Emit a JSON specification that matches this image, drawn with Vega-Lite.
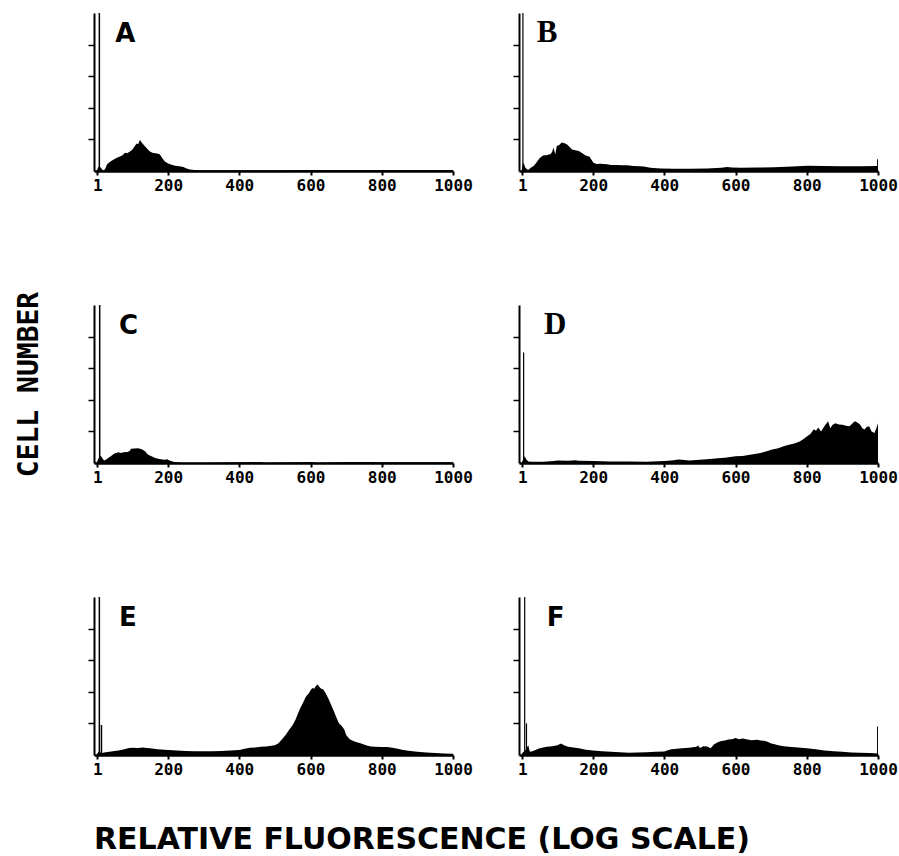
{
  "$schema": "https://vega.github.io/schema/vega-lite/v6.json",
  "background": "white",
  "padding": {"left": 15, "top": 13, "right": 0, "bottom": 0},
  "datasets": {
    "hist": [
      {"panel":"A","ch":0,"n":0},{"panel":"A","ch":3,"n":0.1},{"panel":"A","ch":5,"n":0.14},{"panel":"A","ch":10,"n":0.12},{"panel":"A","ch":15,"n":0.05},{"panel":"A","ch":19,"n":0.01},{"panel":"A","ch":24,"n":0.08},{"panel":"A","ch":28,"n":0.2},{"panel":"A","ch":35,"n":0.28},{"panel":"A","ch":45,"n":0.35},{"panel":"A","ch":56,"n":0.42},{"panel":"A","ch":65,"n":0.46},{"panel":"A","ch":72,"n":0.5},{"panel":"A","ch":79,"n":0.58},{"panel":"A","ch":85,"n":0.56},{"panel":"A","ch":93,"n":0.62},{"panel":"A","ch":100,"n":0.68},{"panel":"A","ch":106,"n":0.78},{"panel":"A","ch":112,"n":0.87},{"panel":"A","ch":116,"n":0.85},{"panel":"A","ch":121,"n":0.98},{"panel":"A","ch":126,"n":0.9},{"panel":"A","ch":130,"n":0.85},{"panel":"A","ch":135,"n":0.78},{"panel":"A","ch":142,"n":0.7},{"panel":"A","ch":149,"n":0.62},{"panel":"A","ch":156,"n":0.58},{"panel":"A","ch":163,"n":0.56},{"panel":"A","ch":170,"n":0.55},{"panel":"A","ch":177,"n":0.52},{"panel":"A","ch":184,"n":0.4},{"panel":"A","ch":191,"n":0.3},{"panel":"A","ch":200,"n":0.24},{"panel":"A","ch":210,"n":0.2},{"panel":"A","ch":220,"n":0.17},{"panel":"A","ch":232,"n":0.15},{"panel":"A","ch":243,"n":0.13},{"panel":"A","ch":252,"n":0.08},{"panel":"A","ch":261,"n":0.05},{"panel":"A","ch":275,"n":0.03},{"panel":"A","ch":289,"n":0.02},{"panel":"A","ch":400,"n":0.02},{"panel":"A","ch":500,"n":0.02},{"panel":"A","ch":600,"n":0.03},{"panel":"A","ch":800,"n":0.03},{"panel":"A","ch":1000,"n":0.03},

      {"panel":"B","ch":0,"n":0.05},{"panel":"B","ch":3,"n":0.26},{"panel":"B","ch":6,"n":0.22},{"panel":"B","ch":10,"n":0.1},{"panel":"B","ch":15,"n":0.05},{"panel":"B","ch":19,"n":0.04},{"panel":"B","ch":25,"n":0.1},{"panel":"B","ch":33,"n":0.16},{"panel":"B","ch":40,"n":0.25},{"panel":"B","ch":45,"n":0.33},{"panel":"B","ch":51,"n":0.42},{"panel":"B","ch":56,"n":0.46},{"panel":"B","ch":61,"n":0.5},{"panel":"B","ch":70,"n":0.5},{"panel":"B","ch":75,"n":0.52},{"panel":"B","ch":80,"n":0.53},{"panel":"B","ch":85,"n":0.6},{"panel":"B","ch":89,"n":0.74},{"panel":"B","ch":92,"n":0.6},{"panel":"B","ch":94,"n":0.53},{"panel":"B","ch":98,"n":0.79},{"panel":"B","ch":105,"n":0.82},{"panel":"B","ch":112,"n":0.9},{"panel":"B","ch":120,"n":0.88},{"panel":"B","ch":127,"n":0.84},{"panel":"B","ch":134,"n":0.76},{"panel":"B","ch":141,"n":0.68},{"panel":"B","ch":150,"n":0.66},{"panel":"B","ch":160,"n":0.63},{"panel":"B","ch":170,"n":0.56},{"panel":"B","ch":178,"n":0.5},{"panel":"B","ch":190,"n":0.45},{"panel":"B","ch":201,"n":0.26},{"panel":"B","ch":210,"n":0.22},{"panel":"B","ch":220,"n":0.23},{"panel":"B","ch":230,"n":0.22},{"panel":"B","ch":239,"n":0.21},{"panel":"B","ch":250,"n":0.19},{"panel":"B","ch":267,"n":0.19},{"panel":"B","ch":280,"n":0.18},{"panel":"B","ch":295,"n":0.18},{"panel":"B","ch":314,"n":0.16},{"panel":"B","ch":330,"n":0.15},{"panel":"B","ch":342,"n":0.14},{"panel":"B","ch":361,"n":0.1},{"panel":"B","ch":390,"n":0.08},{"panel":"B","ch":426,"n":0.07},{"panel":"B","ch":470,"n":0.07},{"panel":"B","ch":520,"n":0.08},{"panel":"B","ch":560,"n":0.1},{"panel":"B","ch":576,"n":0.13},{"panel":"B","ch":590,"n":0.11},{"panel":"B","ch":614,"n":0.1},{"panel":"B","ch":660,"n":0.11},{"panel":"B","ch":708,"n":0.12},{"panel":"B","ch":760,"n":0.14},{"panel":"B","ch":801,"n":0.17},{"panel":"B","ch":850,"n":0.16},{"panel":"B","ch":895,"n":0.15},{"panel":"B","ch":950,"n":0.15},{"panel":"B","ch":1000,"n":0.16},

      {"panel":"C","ch":0,"n":0.02},{"panel":"C","ch":5,"n":0.15},{"panel":"C","ch":10,"n":0.24},{"panel":"C","ch":13,"n":0.2},{"panel":"C","ch":20,"n":0.08},{"panel":"C","ch":25,"n":0.1},{"panel":"C","ch":30,"n":0.14},{"panel":"C","ch":40,"n":0.22},{"panel":"C","ch":49,"n":0.3},{"panel":"C","ch":55,"n":0.32},{"panel":"C","ch":60,"n":0.34},{"panel":"C","ch":68,"n":0.32},{"panel":"C","ch":75,"n":0.34},{"panel":"C","ch":86,"n":0.35},{"panel":"C","ch":92,"n":0.38},{"panel":"C","ch":96,"n":0.45},{"panel":"C","ch":105,"n":0.46},{"panel":"C","ch":115,"n":0.47},{"panel":"C","ch":122,"n":0.45},{"panel":"C","ch":129,"n":0.42},{"panel":"C","ch":136,"n":0.36},{"panel":"C","ch":143,"n":0.27},{"panel":"C","ch":152,"n":0.22},{"panel":"C","ch":162,"n":0.17},{"panel":"C","ch":175,"n":0.13},{"panel":"C","ch":190,"n":0.1},{"panel":"C","ch":197,"n":0.12},{"panel":"C","ch":204,"n":0.08},{"panel":"C","ch":212,"n":0.05},{"panel":"C","ch":218,"n":0.03},{"panel":"C","ch":237,"n":0.01},{"panel":"C","ch":300,"n":0.01},{"panel":"C","ch":400,"n":0.02},{"panel":"C","ch":460,"n":0.03},{"panel":"C","ch":470,"n":0.01},{"panel":"C","ch":560,"n":0.02},{"panel":"C","ch":600,"n":0.03},{"panel":"C","ch":620,"n":0.01},{"panel":"C","ch":700,"n":0.03},{"panel":"C","ch":760,"n":0.03},{"panel":"C","ch":800,"n":0.02},{"panel":"C","ch":1000,"n":0.02},

      {"panel":"D","ch":0,"n":0.02},{"panel":"D","ch":8,"n":0.21},{"panel":"D","ch":12,"n":0.12},{"panel":"D","ch":18,"n":0.05},{"panel":"D","ch":30,"n":0.04},{"panel":"D","ch":60,"n":0.04},{"panel":"D","ch":90,"n":0.06},{"panel":"D","ch":100,"n":0.08},{"panel":"D","ch":130,"n":0.07},{"panel":"D","ch":150,"n":0.09},{"panel":"D","ch":160,"n":0.07},{"panel":"D","ch":200,"n":0.06},{"panel":"D","ch":250,"n":0.05},{"panel":"D","ch":300,"n":0.05},{"panel":"D","ch":350,"n":0.04},{"panel":"D","ch":400,"n":0.06},{"panel":"D","ch":420,"n":0.08},{"panel":"D","ch":440,"n":0.11},{"panel":"D","ch":450,"n":0.1},{"panel":"D","ch":470,"n":0.08},{"panel":"D","ch":500,"n":0.1},{"panel":"D","ch":520,"n":0.12},{"panel":"D","ch":550,"n":0.15},{"panel":"D","ch":570,"n":0.17},{"panel":"D","ch":600,"n":0.21},{"panel":"D","ch":620,"n":0.22},{"panel":"D","ch":640,"n":0.26},{"panel":"D","ch":650,"n":0.28},{"panel":"D","ch":670,"n":0.32},{"panel":"D","ch":690,"n":0.38},{"panel":"D","ch":700,"n":0.42},{"panel":"D","ch":710,"n":0.44},{"panel":"D","ch":720,"n":0.47},{"panel":"D","ch":735,"n":0.53},{"panel":"D","ch":750,"n":0.58},{"panel":"D","ch":765,"n":0.62},{"panel":"D","ch":780,"n":0.68},{"panel":"D","ch":790,"n":0.75},{"panel":"D","ch":800,"n":0.84},{"panel":"D","ch":810,"n":0.92},{"panel":"D","ch":820,"n":1.07},{"panel":"D","ch":826,"n":1.02},{"panel":"D","ch":832,"n":1.12},{"panel":"D","ch":840,"n":1.0},{"panel":"D","ch":848,"n":1.14},{"panel":"D","ch":855,"n":1.25},{"panel":"D","ch":860,"n":1.32},{"panel":"D","ch":866,"n":1.1},{"panel":"D","ch":872,"n":1.2},{"panel":"D","ch":880,"n":1.26},{"panel":"D","ch":890,"n":1.22},{"panel":"D","ch":900,"n":1.21},{"panel":"D","ch":910,"n":1.18},{"panel":"D","ch":920,"n":1.16},{"panel":"D","ch":928,"n":1.25},{"panel":"D","ch":935,"n":1.32},{"panel":"D","ch":942,"n":1.28},{"panel":"D","ch":950,"n":1.21},{"panel":"D","ch":956,"n":1.1},{"panel":"D","ch":962,"n":1.06},{"panel":"D","ch":968,"n":1.14},{"panel":"D","ch":975,"n":1.16},{"panel":"D","ch":982,"n":1.0},{"panel":"D","ch":990,"n":0.95},{"panel":"D","ch":995,"n":1.08},{"panel":"D","ch":1000,"n":1.26},

      {"panel":"E","ch":0,"n":0.03},{"panel":"E","ch":5,"n":0.1},{"panel":"E","ch":10,"n":0.08},{"panel":"E","ch":16,"n":0.06},{"panel":"E","ch":20,"n":0.08},{"panel":"E","ch":35,"n":0.1},{"panel":"E","ch":50,"n":0.13},{"panel":"E","ch":65,"n":0.15},{"panel":"E","ch":80,"n":0.19},{"panel":"E","ch":90,"n":0.22},{"panel":"E","ch":100,"n":0.23},{"panel":"E","ch":115,"n":0.22},{"panel":"E","ch":130,"n":0.24},{"panel":"E","ch":140,"n":0.22},{"panel":"E","ch":150,"n":0.21},{"panel":"E","ch":170,"n":0.18},{"panel":"E","ch":200,"n":0.16},{"panel":"E","ch":225,"n":0.14},{"panel":"E","ch":250,"n":0.13},{"panel":"E","ch":275,"n":0.12},{"panel":"E","ch":300,"n":0.12},{"panel":"E","ch":325,"n":0.12},{"panel":"E","ch":350,"n":0.13},{"panel":"E","ch":375,"n":0.14},{"panel":"E","ch":400,"n":0.16},{"panel":"E","ch":415,"n":0.2},{"panel":"E","ch":430,"n":0.23},{"panel":"E","ch":445,"n":0.24},{"panel":"E","ch":460,"n":0.26},{"panel":"E","ch":475,"n":0.27},{"panel":"E","ch":490,"n":0.29},{"panel":"E","ch":500,"n":0.31},{"panel":"E","ch":510,"n":0.37},{"panel":"E","ch":520,"n":0.5},{"panel":"E","ch":530,"n":0.63},{"panel":"E","ch":540,"n":0.8},{"panel":"E","ch":550,"n":0.95},{"panel":"E","ch":558,"n":1.12},{"panel":"E","ch":565,"n":1.32},{"panel":"E","ch":572,"n":1.5},{"panel":"E","ch":580,"n":1.68},{"panel":"E","ch":585,"n":1.8},{"panel":"E","ch":590,"n":1.89},{"panel":"E","ch":595,"n":1.95},{"panel":"E","ch":600,"n":2.05},{"panel":"E","ch":605,"n":2.12},{"panel":"E","ch":610,"n":2.1},{"panel":"E","ch":615,"n":2.18},{"panel":"E","ch":620,"n":2.23},{"panel":"E","ch":625,"n":2.15},{"panel":"E","ch":630,"n":2.1},{"panel":"E","ch":635,"n":2.08},{"panel":"E","ch":640,"n":2.0},{"panel":"E","ch":645,"n":1.9},{"panel":"E","ch":650,"n":1.79},{"panel":"E","ch":655,"n":1.66},{"panel":"E","ch":660,"n":1.53},{"panel":"E","ch":665,"n":1.4},{"panel":"E","ch":670,"n":1.26},{"panel":"E","ch":675,"n":1.12},{"panel":"E","ch":680,"n":1.0},{"panel":"E","ch":685,"n":0.95},{"panel":"E","ch":690,"n":0.89},{"panel":"E","ch":695,"n":0.8},{"panel":"E","ch":700,"n":0.63},{"panel":"E","ch":710,"n":0.5},{"panel":"E","ch":720,"n":0.44},{"panel":"E","ch":730,"n":0.4},{"panel":"E","ch":740,"n":0.37},{"panel":"E","ch":750,"n":0.33},{"panel":"E","ch":760,"n":0.29},{"panel":"E","ch":770,"n":0.27},{"panel":"E","ch":780,"n":0.26},{"panel":"E","ch":800,"n":0.25},{"panel":"E","ch":815,"n":0.25},{"panel":"E","ch":830,"n":0.23},{"panel":"E","ch":845,"n":0.2},{"panel":"E","ch":860,"n":0.16},{"panel":"E","ch":880,"n":0.13},{"panel":"E","ch":900,"n":0.1},{"panel":"E","ch":925,"n":0.08},{"panel":"E","ch":950,"n":0.06},{"panel":"E","ch":975,"n":0.05},{"panel":"E","ch":1000,"n":0.04},

      {"panel":"F","ch":0,"n":0.05},{"panel":"F","ch":5,"n":0.1},{"panel":"F","ch":10,"n":0.15},{"panel":"F","ch":18,"n":0.31},{"panel":"F","ch":22,"n":0.12},{"panel":"F","ch":25,"n":0.1},{"panel":"F","ch":35,"n":0.14},{"panel":"F","ch":50,"n":0.21},{"panel":"F","ch":60,"n":0.24},{"panel":"F","ch":70,"n":0.26},{"panel":"F","ch":85,"n":0.28},{"panel":"F","ch":100,"n":0.31},{"panel":"F","ch":110,"n":0.36},{"panel":"F","ch":120,"n":0.3},{"panel":"F","ch":130,"n":0.26},{"panel":"F","ch":145,"n":0.24},{"panel":"F","ch":160,"n":0.21},{"panel":"F","ch":180,"n":0.17},{"panel":"F","ch":200,"n":0.14},{"panel":"F","ch":225,"n":0.12},{"panel":"F","ch":250,"n":0.1},{"panel":"F","ch":275,"n":0.09},{"panel":"F","ch":300,"n":0.07},{"panel":"F","ch":325,"n":0.08},{"panel":"F","ch":350,"n":0.09},{"panel":"F","ch":375,"n":0.1},{"panel":"F","ch":400,"n":0.11},{"panel":"F","ch":410,"n":0.15},{"panel":"F","ch":420,"n":0.18},{"panel":"F","ch":435,"n":0.2},{"panel":"F","ch":450,"n":0.21},{"panel":"F","ch":470,"n":0.23},{"panel":"F","ch":490,"n":0.26},{"panel":"F","ch":495,"n":0.3},{"panel":"F","ch":500,"n":0.22},{"panel":"F","ch":510,"n":0.28},{"panel":"F","ch":520,"n":0.27},{"panel":"F","ch":530,"n":0.21},{"panel":"F","ch":540,"n":0.34},{"panel":"F","ch":550,"n":0.4},{"panel":"F","ch":560,"n":0.44},{"panel":"F","ch":570,"n":0.46},{"panel":"F","ch":580,"n":0.49},{"panel":"F","ch":590,"n":0.5},{"panel":"F","ch":600,"n":0.54},{"panel":"F","ch":610,"n":0.5},{"panel":"F","ch":620,"n":0.52},{"panel":"F","ch":630,"n":0.5},{"panel":"F","ch":645,"n":0.47},{"panel":"F","ch":660,"n":0.48},{"panel":"F","ch":670,"n":0.46},{"panel":"F","ch":680,"n":0.45},{"panel":"F","ch":690,"n":0.42},{"panel":"F","ch":700,"n":0.36},{"panel":"F","ch":710,"n":0.34},{"panel":"F","ch":720,"n":0.31},{"panel":"F","ch":735,"n":0.28},{"panel":"F","ch":750,"n":0.26},{"panel":"F","ch":775,"n":0.24},{"panel":"F","ch":800,"n":0.21},{"panel":"F","ch":825,"n":0.18},{"panel":"F","ch":850,"n":0.14},{"panel":"F","ch":875,"n":0.12},{"panel":"F","ch":900,"n":0.1},{"panel":"F","ch":925,"n":0.08},{"panel":"F","ch":950,"n":0.07},{"panel":"F","ch":975,"n":0.06},{"panel":"F","ch":1000,"n":0.05}
    ],
    "spikes": [
      {"panel":"A","ch":7,"top":6},
      {"panel":"B","ch":3,"top":6},{"panel":"B","ch":999,"top":0.37},
      {"panel":"C","ch":8,"top":6},
      {"panel":"D","ch":5,"top":3.5},
      {"panel":"E","ch":7,"top":6},{"panel":"E","ch":13,"top":0.95},
      {"panel":"F","ch":8,"top":6},{"panel":"F","ch":13,"top":1.0},{"panel":"F","ch":999,"top":0.9}
    ],
    "letters": [
      {"panel":"A","letter":"A"},{"panel":"B","letter":"B"},{"panel":"C","letter":"C"},
      {"panel":"D","letter":"D"},{"panel":"E","letter":"E"},{"panel":"F","letter":"F"}
    ]
  },
  "title": {
    "text": "RELATIVE FLUORESCENCE (LOG SCALE)",
    "orient": "bottom",
    "anchor": "start",
    "frame": "group",
    "font": "DejaVu Sans",
    "fontSize": 30,
    "fontWeight": "bold",
    "color": "black",
    "offset": 48
  },
  "columns": 2,
  "spacing": {"row": 134, "column": 66},
  "bounds": "flush",
  "concat": [
    {
      "width": 359, "height": 158,
      "layer": [
        {"data": {"name": "hist"}, "transform": [{"filter": "datum.panel === 'A'"}],
         "mark": {"type": "area", "color": "black", "clip": true},
         "encoding": {
           "x": {"field": "ch", "type": "quantitative", "scale": {"domain": [-8, 1000], "nice": false, "zero": false},
                 "axis": {"title": null, "values": [1,100,200,300,400,500,600,700,800,900,1000], "format": "d", "labelExpr": "datum.value === 1 || datum.value % 200 === 0 ? datum.label : ''"}},
           "y": {"field": "n", "type": "quantitative", "scale": {"domain": [0, 5], "nice": false},
                 "axis": {"title": null, "values": [1,2,3,4], "labels": false}}}},
        {"data": {"name": "spikes"}, "transform": [{"filter": "datum.panel === 'A'"}],
         "mark": {"type": "rule", "color": "black", "strokeWidth": 1.5, "clip": true},
         "encoding": {"x": {"field": "ch", "type": "quantitative"}, "y": {"field": "top", "type": "quantitative"}, "y2": {"datum": 0}}},
        {"data": {"name": "letters"}, "transform": [{"filter": "datum.panel === 'A'"}],
         "mark": {"type": "text", "align": "left", "baseline": "alphabetic", "font": "DejaVu Sans", "fontWeight": "bold", "fontSize": 26, "color": "black"},
         "encoding": {"x": {"datum": 52, "type": "quantitative"}, "y": {"datum": 4.07, "type": "quantitative"}, "text": {"field": "letter", "type": "nominal"}}}
      ]
    },
    {
      "width": 359, "height": 158,
      "layer": [
        {"data": {"name": "hist"}, "transform": [{"filter": "datum.panel === 'B'"}],
         "mark": {"type": "area", "color": "black", "clip": true},
         "encoding": {
           "x": {"field": "ch", "type": "quantitative", "scale": {"domain": [-8, 1000], "nice": false, "zero": false},
                 "axis": {"title": null, "values": [1,100,200,300,400,500,600,700,800,900,1000], "format": "d", "labelExpr": "datum.value === 1 || datum.value % 200 === 0 ? datum.label : ''"}},
           "y": {"field": "n", "type": "quantitative", "scale": {"domain": [0, 5], "nice": false},
                 "axis": {"title": null, "values": [1,2,3,4], "labels": false}}}},
        {"data": {"name": "spikes"}, "transform": [{"filter": "datum.panel === 'B'"}],
         "mark": {"type": "rule", "color": "black", "strokeWidth": 1.2, "clip": true},
         "encoding": {"x": {"field": "ch", "type": "quantitative"}, "y": {"field": "top", "type": "quantitative"}, "y2": {"datum": 0}}},
        {"data": {"name": "letters"}, "transform": [{"filter": "datum.panel === 'B'"}],
         "mark": {"type": "text", "align": "left", "baseline": "alphabetic", "font": "Liberation Serif", "fontWeight": "bold", "fontSize": 31, "color": "black"},
         "encoding": {"x": {"datum": 42, "type": "quantitative"}, "y": {"datum": 4.07, "type": "quantitative"}, "text": {"field": "letter", "type": "nominal"}}}
      ]
    },
    {
      "width": 359, "height": 158,
      "layer": [
        {"data": {"name": "hist"}, "transform": [{"filter": "datum.panel === 'C'"}],
         "mark": {"type": "area", "color": "black", "clip": true},
         "encoding": {
           "x": {"field": "ch", "type": "quantitative", "scale": {"domain": [-8, 1000], "nice": false, "zero": false},
                 "axis": {"title": null, "values": [1,100,200,300,400,500,600,700,800,900,1000], "format": "d", "labelExpr": "datum.value === 1 || datum.value % 200 === 0 ? datum.label : ''"}},
           "y": {"field": "n", "type": "quantitative", "scale": {"domain": [0, 5], "nice": false},
                 "axis": {"title": "CELL NUMBER", "values": [1,2,3,4], "labels": false, "titleFont": "DejaVu Sans Mono", "titleFontSize": 28, "titleFontWeight": "bold", "titlePadding": 44}}}},
        {"data": {"name": "spikes"}, "transform": [{"filter": "datum.panel === 'C'"}],
         "mark": {"type": "rule", "color": "black", "strokeWidth": 1.5, "clip": true},
         "encoding": {"x": {"field": "ch", "type": "quantitative"}, "y": {"field": "top", "type": "quantitative"}, "y2": {"datum": 0}}},
        {"data": {"name": "letters"}, "transform": [{"filter": "datum.panel === 'C'"}],
         "mark": {"type": "text", "align": "left", "baseline": "alphabetic", "font": "DejaVu Sans", "fontWeight": "bold", "fontSize": 26, "color": "black"},
         "encoding": {"x": {"datum": 62, "type": "quantitative"}, "y": {"datum": 4.07, "type": "quantitative"}, "text": {"field": "letter", "type": "nominal"}}}
      ]
    },
    {
      "width": 359, "height": 158,
      "layer": [
        {"data": {"name": "hist"}, "transform": [{"filter": "datum.panel === 'D'"}],
         "mark": {"type": "area", "color": "black", "clip": true},
         "encoding": {
           "x": {"field": "ch", "type": "quantitative", "scale": {"domain": [-8, 1000], "nice": false, "zero": false},
                 "axis": {"title": null, "values": [1,100,200,300,400,500,600,700,800,900,1000], "format": "d", "labelExpr": "datum.value === 1 || datum.value % 200 === 0 ? datum.label : ''"}},
           "y": {"field": "n", "type": "quantitative", "scale": {"domain": [0, 5], "nice": false},
                 "axis": {"title": null, "values": [1,2,3,4], "labels": false}}}},
        {"data": {"name": "spikes"}, "transform": [{"filter": "datum.panel === 'D'"}],
         "mark": {"type": "rule", "color": "black", "strokeWidth": 1.2, "clip": true},
         "encoding": {"x": {"field": "ch", "type": "quantitative"}, "y": {"field": "top", "type": "quantitative"}, "y2": {"datum": 0}}},
        {"data": {"name": "letters"}, "transform": [{"filter": "datum.panel === 'D'"}],
         "mark": {"type": "text", "align": "left", "baseline": "alphabetic", "font": "Liberation Serif", "fontWeight": "bold", "fontSize": 31, "color": "black"},
         "encoding": {"x": {"datum": 62, "type": "quantitative"}, "y": {"datum": 4.07, "type": "quantitative"}, "text": {"field": "letter", "type": "nominal"}}}
      ]
    },
    {
      "width": 359, "height": 158,
      "layer": [
        {"data": {"name": "hist"}, "transform": [{"filter": "datum.panel === 'E'"}],
         "mark": {"type": "area", "color": "black", "clip": true},
         "encoding": {
           "x": {"field": "ch", "type": "quantitative", "scale": {"domain": [-8, 1000], "nice": false, "zero": false},
                 "axis": {"title": null, "values": [1,100,200,300,400,500,600,700,800,900,1000], "format": "d", "labelExpr": "datum.value === 1 || datum.value % 200 === 0 ? datum.label : ''"}},
           "y": {"field": "n", "type": "quantitative", "scale": {"domain": [0, 5], "nice": false},
                 "axis": {"title": null, "values": [1,2,3,4], "labels": false}}}},
        {"data": {"name": "spikes"}, "transform": [{"filter": "datum.panel === 'E'"}],
         "mark": {"type": "rule", "color": "black", "strokeWidth": 1.5, "clip": true},
         "encoding": {"x": {"field": "ch", "type": "quantitative"}, "y": {"field": "top", "type": "quantitative"}, "y2": {"datum": 0}}},
        {"data": {"name": "letters"}, "transform": [{"filter": "datum.panel === 'E'"}],
         "mark": {"type": "text", "align": "left", "baseline": "alphabetic", "font": "DejaVu Sans", "fontWeight": "bold", "fontSize": 26, "color": "black"},
         "encoding": {"x": {"datum": 62, "type": "quantitative"}, "y": {"datum": 4.07, "type": "quantitative"}, "text": {"field": "letter", "type": "nominal"}}}
      ]
    },
    {
      "width": 359, "height": 158,
      "layer": [
        {"data": {"name": "hist"}, "transform": [{"filter": "datum.panel === 'F'"}],
         "mark": {"type": "area", "color": "black", "clip": true},
         "encoding": {
           "x": {"field": "ch", "type": "quantitative", "scale": {"domain": [-8, 1000], "nice": false, "zero": false},
                 "axis": {"title": null, "values": [1,100,200,300,400,500,600,700,800,900,1000], "format": "d", "labelExpr": "datum.value === 1 || datum.value % 200 === 0 ? datum.label : ''"}},
           "y": {"field": "n", "type": "quantitative", "scale": {"domain": [0, 5], "nice": false},
                 "axis": {"title": null, "values": [1,2,3,4], "labels": false}}}},
        {"data": {"name": "spikes"}, "transform": [{"filter": "datum.panel === 'F'"}],
         "mark": {"type": "rule", "color": "black", "strokeWidth": 1.2, "clip": true},
         "encoding": {"x": {"field": "ch", "type": "quantitative"}, "y": {"field": "top", "type": "quantitative"}, "y2": {"datum": 0}}},
        {"data": {"name": "letters"}, "transform": [{"filter": "datum.panel === 'F'"}],
         "mark": {"type": "text", "align": "left", "baseline": "alphabetic", "font": "DejaVu Sans", "fontWeight": "bold", "fontSize": 26, "color": "black"},
         "encoding": {"x": {"datum": 70, "type": "quantitative"}, "y": {"datum": 4.07, "type": "quantitative"}, "text": {"field": "letter", "type": "nominal"}}}
      ]
    }
  ],
  "config": {
    "view": {"stroke": null},
    "axis": {"grid": false, "domainColor": "black", "tickColor": "black", "labelColor": "black", "titleColor": "black"},
    "axisX": {"labelFont": "DejaVu Sans Mono", "labelFontWeight": "bold", "labelFontSize": 16, "labelPadding": 2, "labelFlush": false, "labelOverlap": false, "domainWidth": 2.5, "tickWidth": 2, "tickSize": 4},
    "axisY": {"domainWidth": 2, "tickWidth": 1.5, "tickSize": 6}
  }
}
